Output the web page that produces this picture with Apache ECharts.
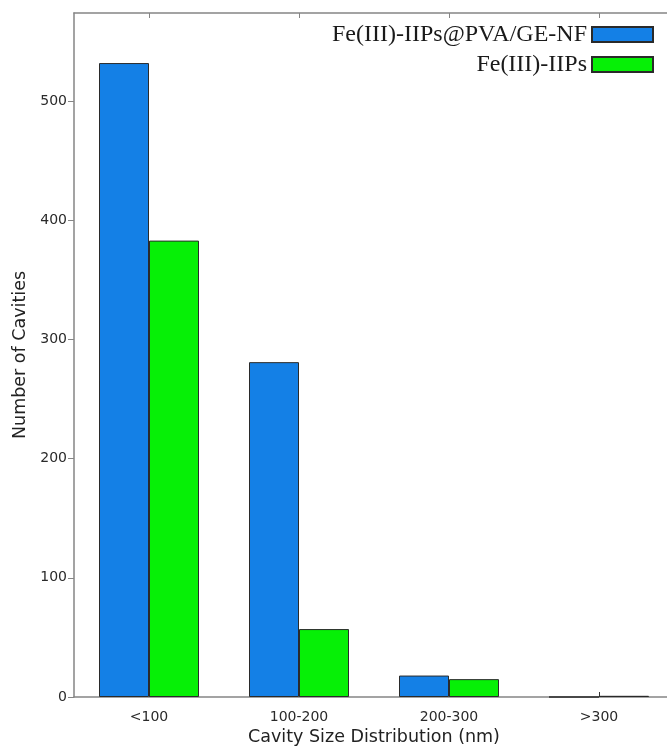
<!DOCTYPE html>
<html>
<head>
<meta charset="utf-8">
<script src="https://cdn.jsdelivr.net/npm/echarts@6/dist/echarts.min.js"></script>
<style>
html,body{margin:0;padding:0;background:#fff;}
#chart{width:667px;height:747px;}
</style>
</head>
<body>
<div id="chart"></div>
<script>
const categories = ['<100', '100-200', '200-300', '>300'];
const seriesNames = ['Fe(III)-IIPs@PVA/GE-NF', 'Fe(III)-IIPs'];
const compositeValues = [532, 281, 18, 0];
const iipValues = [383, 57, 15, 1];
const yTicks = [0, 100, 200, 300, 400, 500];

const chart = echarts.init(document.getElementById('chart'), null, {renderer: 'canvas'});
const axisColor = '#858585';
const sansFont = 'DejaVu Sans';
chart.setOption({
  backgroundColor: '#ffffff',
  animation: false,
  grid: {left: 74, right: -7, top: 13, bottom: 50, containLabel: false, outerBoundsMode: 'none'},
  legend: {
    orient: 'vertical',
    align: 'right',
    right: 13,
    top: 22.5,
    padding: 0,
    itemWidth: 61,
    itemHeight: 15,
    itemGap: 6,
    icon: 'rect',
    textStyle: {fontFamily: 'Liberation Serif', fontSize: 24, color: '#1a1a1a'},
    data: seriesNames
  },
  xAxis: [{
    type: 'category',
    data: categories,
    position: 'bottom',
    name: 'Cavity Size Distribution (nm)',
    nameLocation: 'middle',
    nameGap: 31,
    nameTextStyle: {fontFamily: sansFont, fontSize: 17.5, color: '#222'},
    axisLine: {show: true, lineStyle: {color: axisColor, width: 1.5}},
    axisTick: {show: true, inside: true, alignWithLabel: true, length: 5, lineStyle: {color: '#333'}},
    axisLabel: {fontFamily: sansFont, fontSize: 14, color: '#2a2a2a', margin: 13}
  }, {
    type: 'category',
    data: categories,
    position: 'top',
    axisLine: {show: true, lineStyle: {color: axisColor, width: 1.5}},
    axisTick: {show: true, inside: true, alignWithLabel: true, length: 5, lineStyle: {color: axisColor}},
    axisLabel: {show: false}
  }],
  yAxis: {
    type: 'value',
    min: yTicks[0],
    max: 574,
    interval: yTicks[1] - yTicks[0],
    name: 'Number of Cavities',
    nameLocation: 'middle',
    nameGap: 36,
    nameTextStyle: {fontFamily: sansFont, fontSize: 17.5, color: '#222'},
    axisLine: {show: true, lineStyle: {color: axisColor, width: 1.5}},
    axisTick: {show: true, inside: false, length: 6, lineStyle: {color: axisColor}},
    axisLabel: {fontFamily: sansFont, fontSize: 14, color: '#2a2a2a', margin: 7, showMaxLabel: false},
    splitLine: {show: false}
  },
  series: [{
    name: seriesNames[0],
    type: 'bar',
    data: compositeValues,
    barWidth: 50,
    barGap: '0%',
    itemStyle: {color: '#1480e6', borderColor: '#2a2a2a', borderWidth: 1}
  }, {
    name: seriesNames[1],
    type: 'bar',
    data: iipValues,
    barWidth: 50,
    barGap: '0%',
    itemStyle: {color: '#06f006', borderColor: '#2a2a2a', borderWidth: 1}
  }]
});
</script>
</body>
</html>
